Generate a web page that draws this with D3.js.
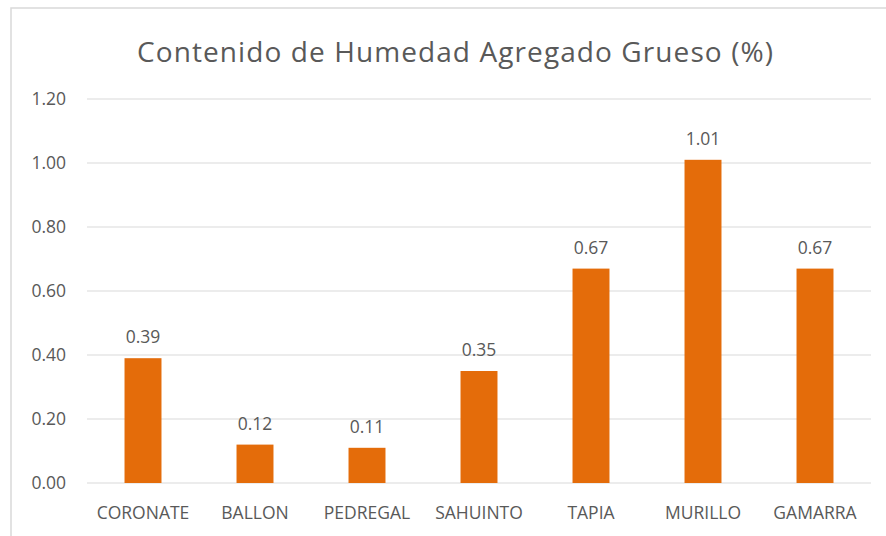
<!DOCTYPE html>
<html>
<head>
<meta charset="utf-8">
<script src="https://cdn.jsdelivr.net/npm/d3@7"></script>
<style>
  body { margin: 0; background: #fff; }
  text { font-family: "Open Sans", Lato, sans-serif; fill: #595959; }
</style>
</head>
<body>
<div id="chart"></div>
<script>
// Chart data
const categories = ["CORONATE", "BALLON", "PEDREGAL", "SAHUINTO", "TAPIA", "MURILLO", "GAMARRA"];
const values = [0.39, 0.12, 0.11, 0.35, 0.67, 1.01, 0.67];
const yTicks = [0, 0.2, 0.4, 0.6, 0.8, 1.0, 1.2];
const title = "Contenido de Humedad Agregado Grueso (%)";

const W = 886, H = 536;
const margin = { top: 99, right: 15, bottom: 53, left: 87 };
const width = W - margin.left - margin.right;
const height = H - margin.top - margin.bottom;

const svg = d3.select("#chart").append("svg")
    .attr("width", W)
    .attr("height", H);

// outer chart border
svg.append("rect")
    .attr("x", 11).attr("y", 8)
    .attr("width", W).attr("height", H)
    .attr("fill", "none")
    .attr("stroke", "#d9d9d9")
    .attr("stroke-width", 1.5);

svg.append("text")
    .attr("x", 455)
    .attr("y", 62)
    .attr("text-anchor", "middle")
    .attr("font-size", 28)
    .attr("textLength", 636)
    .attr("lengthAdjust", "spacing")
    .text(title);

const g = svg.append("g")
    .attr("transform", `translate(${margin.left},${margin.top})`);

const x = d3.scaleBand()
    .domain(categories)
    .range([0, width])
    .paddingInner(0.67)
    .paddingOuter(0.335);

const y = d3.scaleLinear()
    .domain([0, 1.2])
    .range([height, 0]);

// gridlines
g.selectAll(".grid")
    .data(yTicks)
    .enter().append("line")
    .attr("x1", 0).attr("x2", width)
    .attr("y1", d => y(d)).attr("y2", d => y(d))
    .attr("stroke", "#d9d9d9")
    .attr("stroke-width", 1);

// y tick labels
g.selectAll(".ylab")
    .data(yTicks)
    .enter().append("text")
    .attr("x", -21)
    .attr("y", d => y(d))
    .attr("dy", "0.36em")
    .attr("text-anchor", "end")
    .attr("font-size", 17.5)
    .text(d => d.toFixed(2));

// bars
g.selectAll(".bar")
    .data(values)
    .enter().append("rect")
    .attr("x", (d, i) => x(categories[i]))
    .attr("y", d => y(d))
    .attr("width", x.bandwidth())
    .attr("height", d => height - y(d))
    .attr("fill", "#e46c0a");

// data labels
g.selectAll(".vlab")
    .data(values)
    .enter().append("text")
    .attr("x", (d, i) => x(categories[i]) + x.bandwidth() / 2)
    .attr("y", d => y(d) - 15)
    .attr("text-anchor", "middle")
    .attr("font-size", 17.5)
    .text(d => d.toFixed(2));

// category labels
g.selectAll(".xlab")
    .data(categories)
    .enter().append("text")
    .attr("x", d => x(d) + x.bandwidth() / 2)
    .attr("y", height + 36)
    .attr("text-anchor", "middle")
    .attr("font-size", 17.5)
    .text(d => d);
</script>
</body>
</html>
